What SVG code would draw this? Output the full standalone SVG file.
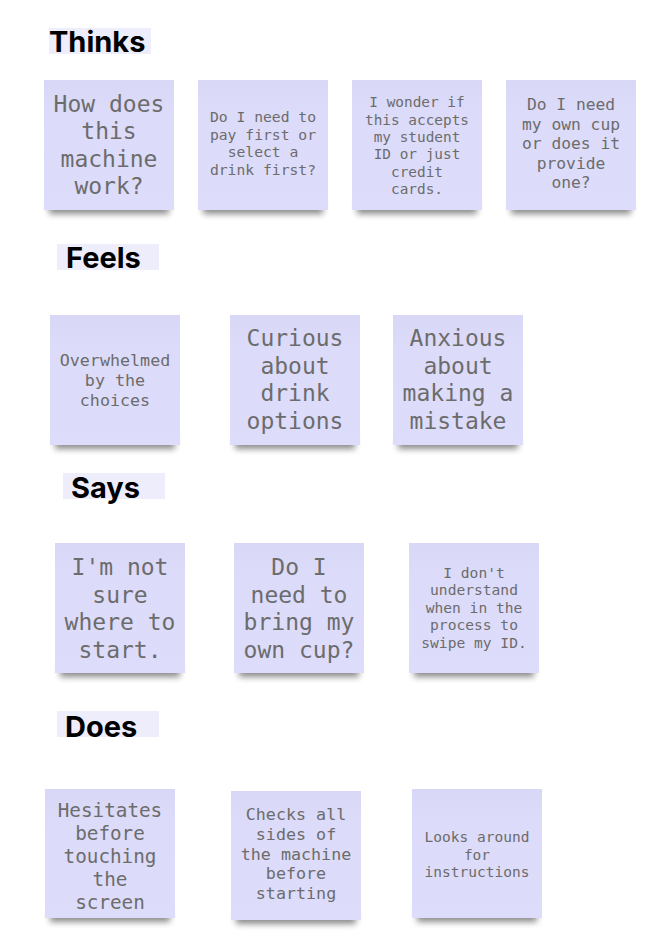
<svg xmlns="http://www.w3.org/2000/svg" width="650" height="942" viewBox="0 0 650 942">
<defs>
<linearGradient id="paper" x1="0" y1="0" x2="0" y2="1">
<stop offset="0" stop-color="#d8d7f5"/>
<stop offset="0.25" stop-color="#dcdbf9"/>
<stop offset="1" stop-color="#dedcfb"/>
</linearGradient>
<filter id="blur" x="-20%" y="-100%" width="140%" height="300%">
<feGaussianBlur stdDeviation="3"/>
</filter>
</defs>
<style>
.hbg{fill:#eeedfc}
.h{font-family:Inter,"Liberation Sans",sans-serif;font-weight:700;font-size:29px;fill:#000}
.note{fill:url(#paper)}
.sh{fill:#000;opacity:0.45;filter:url(#blur)}
.t{font-family:"DejaVu Sans Mono","Liberation Mono",monospace;fill:#6c6c6c;text-anchor:middle}
</style>
<rect width="650" height="942" fill="#fff"/>

<g id="heading-thinks"><rect class="hbg" x="49" y="28" width="102" height="26"/><text class="h" x="49" y="52">Thinks</text></g>
<g id="heading-feels"><rect class="hbg" x="57" y="244" width="102" height="26"/><text class="h" x="66" y="268">Feels</text></g>
<g id="heading-says"><rect class="hbg" x="63" y="473" width="102" height="26"/><text class="h" x="71" y="498">Says</text></g>
<g id="heading-does"><rect class="hbg" x="57" y="711" width="102" height="26"/><text class="h" x="65" y="737">Does</text></g>

<g id="t1"><rect class="sh" x="49" y="200" width="120" height="14"/><rect class="note" x="44" y="80" width="130" height="130"/>
<text class="t" font-size="23"><tspan x="109" y="111.5">How does</tspan><tspan x="109" y="139.1">this</tspan><tspan x="109" y="166.7">machine</tspan><tspan x="109" y="194.3">work?</tspan></text></g>
<g id="t2"><rect class="sh" x="203" y="200" width="120" height="14"/><rect class="note" x="198" y="80" width="130" height="130"/>
<text class="t" font-size="14.7"><tspan x="263" y="122">Do I need to</tspan><tspan x="263" y="139.6">pay first or</tspan><tspan x="263" y="157.2">select a</tspan><tspan x="263" y="174.8">drink first?</tspan></text></g>
<g id="t3"><rect class="sh" x="357" y="200" width="120" height="14"/><rect class="note" x="352" y="80" width="130" height="130"/>
<text class="t" font-size="14.4"><tspan x="417" y="107.3">I wonder if</tspan><tspan x="417" y="124.6">this accepts</tspan><tspan x="417" y="141.9">my student</tspan><tspan x="417" y="159.2">ID or just</tspan><tspan x="417" y="176.5">credit</tspan><tspan x="417" y="193.8">cards.</tspan></text></g>
<g id="t4"><rect class="sh" x="511" y="200" width="120" height="14"/><rect class="note" x="506" y="80" width="130" height="130"/>
<text class="t" font-size="16.3"><tspan x="571" y="110">Do I need</tspan><tspan x="571" y="129.6">my own cup</tspan><tspan x="571" y="149.2">or does it</tspan><tspan x="571" y="168.8">provide</tspan><tspan x="571" y="188.4">one?</tspan></text></g>

<g id="f1"><rect class="sh" x="55" y="435" width="120" height="14"/><rect class="note" x="50" y="315" width="130" height="130"/>
<text class="t" font-size="16.7"><tspan x="115" y="366">Overwhelmed</tspan><tspan x="115" y="386">by the</tspan><tspan x="115" y="406">choices</tspan></text></g>
<g id="f2"><rect class="sh" x="235" y="435" width="120" height="14"/><rect class="note" x="230" y="315" width="130" height="130"/>
<text class="t" font-size="23"><tspan x="295" y="346">Curious</tspan><tspan x="295" y="373.6">about</tspan><tspan x="295" y="401.2">drink</tspan><tspan x="295" y="428.8">options</tspan></text></g>
<g id="f3"><rect class="sh" x="398" y="435" width="120" height="14"/><rect class="note" x="393" y="315" width="130" height="130"/>
<text class="t" font-size="23"><tspan x="458" y="346">Anxious</tspan><tspan x="458" y="373.6">about</tspan><tspan x="458" y="401.2">making a</tspan><tspan x="458" y="428.8">mistake</tspan></text></g>

<g id="s1"><rect class="sh" x="60" y="663" width="120" height="14"/><rect class="note" x="55" y="543" width="130" height="130"/>
<text class="t" font-size="23"><tspan x="120" y="575">I'm not</tspan><tspan x="120" y="602.6">sure</tspan><tspan x="120" y="630.2">where to</tspan><tspan x="120" y="657.8">start.</tspan></text></g>
<g id="s2"><rect class="sh" x="239" y="663" width="120" height="14"/><rect class="note" x="234" y="543" width="130" height="130"/>
<text class="t" font-size="23"><tspan x="299" y="575">Do I</tspan><tspan x="299" y="602.6">need to</tspan><tspan x="299" y="630.2">bring my</tspan><tspan x="299" y="657.8">own cup?</tspan></text></g>
<g id="s3"><rect class="sh" x="414" y="663" width="120" height="14"/><rect class="note" x="409" y="543" width="130" height="130"/>
<text class="t" font-size="14.6"><tspan x="474" y="577.5">I don't</tspan><tspan x="474" y="595">understand</tspan><tspan x="474" y="612.5">when in the</tspan><tspan x="474" y="630">process to</tspan><tspan x="474" y="647.5">swipe my ID.</tspan></text></g>

<g id="d1"><rect class="sh" x="50" y="908" width="120" height="14"/><rect class="note" x="45" y="789" width="130" height="129"/>
<text class="t" font-size="19.3"><tspan x="110" y="817">Hesitates</tspan><tspan x="110" y="840">before</tspan><tspan x="110" y="863">touching</tspan><tspan x="110" y="886">the</tspan><tspan x="110" y="909">screen</tspan></text></g>
<g id="d2"><rect class="sh" x="236" y="910" width="120" height="14"/><rect class="note" x="231" y="791" width="130" height="129"/>
<text class="t" font-size="16.7"><tspan x="296" y="820">Checks all</tspan><tspan x="296" y="839.8">sides of</tspan><tspan x="296" y="859.6">the machine</tspan><tspan x="296" y="879.4">before</tspan><tspan x="296" y="899.2">starting</tspan></text></g>
<g id="d3"><rect class="sh" x="417" y="908" width="120" height="14"/><rect class="note" x="412" y="789" width="130" height="129"/>
<text class="t" font-size="14.5"><tspan x="477" y="842.3">Looks around</tspan><tspan x="477" y="859.5">for</tspan><tspan x="477" y="876.7">instructions</tspan></text></g>

<g id="connectors"></g>
</svg>
